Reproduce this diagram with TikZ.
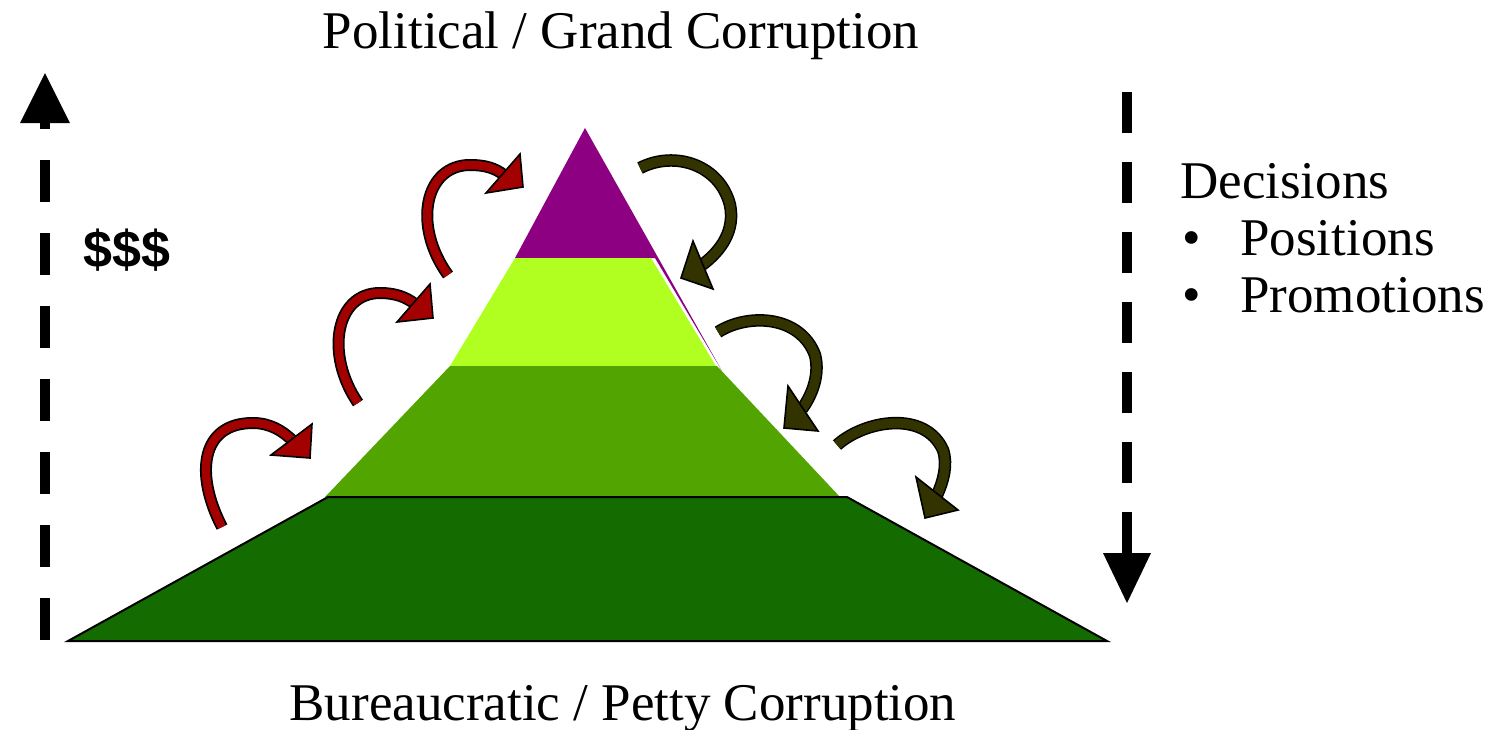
\documentclass[tikz,border=0pt]{standalone}
\usepackage{fontspec}
\setmainfont{Liberation Serif}
\newfontfamily\dollarfont{Liberation Sans}
\definecolor{toppurple}{RGB}{142,0,130}
\definecolor{lightgr}{RGB}{176,255,32}
\definecolor{midgr}{RGB}{82,165,0}
\definecolor{darkgr}{RGB}{20,107,0}
\definecolor{arrred}{RGB}{163,0,0}
\definecolor{arrolive}{RGB}{51,51,0}
\tikzset{
  lbl/.style={inner sep=0pt, font=\fontsize{53}{60}\selectfont},
  dashline/.style={line width=10pt, black},
  shaftout/.style={line width=12pt, black},
  redshaft/.style={line width=8.5pt, arrred},
  oliveshaft/.style={line width=9.5pt, arrolive},
  redhead/.style={fill=arrred, draw=black, line width=1.6pt, line join=miter},
  olivehead/.style={fill=arrolive, draw=black, line width=1.6pt, line join=miter},
}
\begin{document}
\begin{tikzpicture}[x=1pt,y=-1pt]
\useasboundingbox (0,0) rectangle (1502,729);
\fill[white] (0,0) rectangle (1502,729);

% pyramid layers
\fill[toppurple] (585,128) -- (515,258) -- (655,258) -- (722,371) -- cycle;
\fill[lightgr] (515,258) -- (651,258) -- (716,366) -- (450,366) -- cycle;
\fill[midgr] (450,366) -- (717,366) -- (840,497) -- (325,497) -- cycle;
\draw[fill=darkgr, draw=black, line width=2pt] (328,497) -- (847,497) -- (1107,641) -- (68,641) -- cycle;

% left dashed arrow
\coordinate (lbot) at (45,640);
\coordinate (ltop) at (45,123);
\draw[dashline, dash pattern=on 42pt off 31pt] (lbot) -- (ltop);
\fill[black] (20,123) -- (70,123) -- (45,73) -- cycle;

% right dashed arrow
\coordinate (rtop) at (1127,92);
\coordinate (rbot) at (1127,553);
\draw[dashline, dash pattern=on 41pt off 29pt] (rtop) -- (rbot);
\fill[black] (1103,553) -- (1151,553) -- (1127,603) -- cycle;

% red curved arrows (left side)
\foreach \p in {
  {(222,527) .. controls (195,475) and (200,423) .. (253,423) .. controls (270,423) and (283,431) .. (293,441)},
  {(358,403) .. controls (325,355) and (335,293) .. (380,293) .. controls (395,293) and (406,297) .. (415,304)},
  {(448,275) .. controls (412,225) and (425,165) .. (470,165) .. controls (485,165) and (495,168) .. (504,175)}}
{
  \draw[shaftout] \p;
  \draw[redshaft] \p;
}
\draw[redhead] (312,424) -- (310,458) -- (271,455) -- cycle;
\draw[redhead] (430,284) -- (433,318) -- (397,322) -- cycle;
\draw[redhead] (520,154) -- (523,187) -- (486,193) -- cycle;

% olive curved arrows (right side)
\foreach \p in {
  {(640,168) .. controls (675,150) and (720,165) .. (730,205) .. controls (735,230) and (722,250) .. (702,265)},
  {(718,332) .. controls (748,313) and (800,315) .. (815,355) .. controls (820,375) and (812,395) .. (802,409)},
  {(837,445) .. controls (865,420) and (925,410) .. (943,450) .. controls (948,465) and (943,482) .. (937,495)}}
{
  \draw[shaftout, line width=12.5pt] \p;
  \draw[oliveshaft] \p;
}
\draw[olivehead] (693,241) -- (681,278) -- (713,289) -- cycle;
\draw[olivehead] (788,386) -- (784,428) -- (818,431) -- cycle;
\draw[olivehead] (916,477) -- (925,518) -- (958,510) -- cycle;

% texts
\node[lbl, anchor=base] (top) at (621,48) {Political / Grand Corruption};
\node[lbl, anchor=base] (bottom) at (623,720) {Bureaucratic / Petty Corruption};
\node[lbl, anchor=base west] (dec) at (1180,198) {Decisions};
\node[lbl, anchor=base west] (b1) at (1182,255) {•};
\node[lbl, anchor=base west] (pos) at (1240,255) {Positions};
\node[lbl, anchor=base west] (b2) at (1182,312) {•};
\node[lbl, anchor=base west] (prom) at (1240,312) {Promotions};
\node[inner sep=0pt, font=\dollarfont\bfseries\fontsize{52}{56}\selectfont] (money) at (127,250) {\$\$\$};
\end{tikzpicture}
\end{document}
